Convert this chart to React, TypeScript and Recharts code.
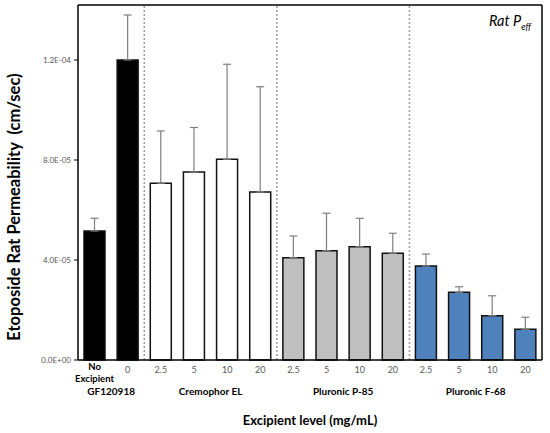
import React from 'react';
import {
  BarChart,
  Bar,
  XAxis,
  YAxis,
  Cell,
  ErrorBar,
  ReferenceLine,
} from 'recharts';

// one entry per bar, left to right
const ids = ['none', 'g0', 'c2.5', 'c5', 'c10', 'c20', 'p2.5', 'p5', 'p10', 'p20', 'f2.5', 'f5', 'f10', 'f20'];
const tickLabels = ['No Excipient', '0', '2.5', '5', '10', '20', '2.5', '5', '10', '20', '2.5', '5', '10', '20'];
const groupOf = [0, 0, 1, 1, 1, 1, 2, 2, 2, 2, 3, 3, 3, 3];
const permeability = [
  5.16e-5, 1.2e-4, 7.07e-5, 7.52e-5, 8.03e-5, 6.72e-5, 4.09e-5, 4.37e-5, 4.53e-5, 4.27e-5, 3.76e-5, 2.71e-5,
  1.77e-5, 1.23e-5,
];
const upperError = [
  0.51e-5, 1.8e-5, 2.09e-5, 1.78e-5, 3.8e-5, 4.21e-5, 0.87e-5, 1.5e-5, 1.14e-5, 0.8e-5, 0.48e-5, 0.22e-5, 0.8e-5,
  0.48e-5,
];

const groupNames = ['GF120918', 'Cremophor EL', 'Pluronic P-85', 'Pluronic F-68'];
const groupFills = ['#000000', '#ffffff', '#bfbfbf', '#4f81bd'];
const groupStarts = ['none', 'c2.5', 'p2.5', 'f2.5'];
const groupSizes = [2, 4, 4, 4];

const yTicks = [0, 4e-5, 8e-5, 1.2e-4];
const Y_MAX = 1.42e-4;

const WIDTH = 550;
const HEIGHT = 433;
const Y_AXIS_W = 78;
const MARGIN = { top: 5, right: 8, left: 0, bottom: 0 };
const BAND = (WIDTH - Y_AXIS_W - MARGIN.right) / ids.length;
const FONT = 'Lato, "Open Sans", sans-serif';

const data = ids.map((id, i) => ({
  id,
  label: tickLabels[i],
  group: groupOf[i],
  value: permeability[i],
  err: [0, upperError[i]],
}));

function sci(v: number): string {
  if (v === 0) return '0.0E+00';
  const exp = Math.floor(Math.log10(Math.abs(v)));
  const mant = v / Math.pow(10, exp);
  const sign = exp < 0 ? '-' : '+';
  return `${mant.toFixed(1)}E${sign}${String(Math.abs(exp)).padStart(2, '0')}`;
}

function CategoryTick(props: any) {
  const { x, y, payload, index } = props;
  const i = index ?? ids.indexOf(payload.value);
  const gi = groupStarts.indexOf(payload.value);
  return (
    <g>
      {i === 0 ? (
        <text x={x} y={y} textAnchor="middle" fontFamily={FONT} fontSize={9.5} fontWeight="bold" fill="#000">
          <tspan x={x} dy={10}>No</tspan>
          <tspan x={x} dy={11.5}>Excipient</tspan>
        </text>
      ) : (
        <text x={x} y={y + 13} textAnchor="middle" fontFamily={FONT} fontSize={9} fill="#595959">
          {tickLabels[i]}
        </text>
      )}
      {gi >= 0 && (
        <text
          x={x + ((groupSizes[gi] - 1) * BAND) / 2}
          y={y + 35}
          textAnchor="middle"
          fontFamily={FONT}
          fontSize={10}
          fontWeight="bold"
          fill="#000"
        >
          {groupNames[gi]}
        </text>
      )}
    </g>
  );
}

function YTitle() {
  return (
    <text
      x={14}
      y={207}
      transform="rotate(-90, 14, 207)"
      textAnchor="middle"
      dominantBaseline="central"
      fontFamily={FONT}
      fontSize={16.5}
      fontWeight="bold"
      fill="#000"
      style={{ whiteSpace: 'pre' }}
    >
      Etoposide Rat Permeability  (cm/sec)
    </text>
  );
}

export default function App() {
  return (
    <div style={{ position: 'relative', width: WIDTH, height: HEIGHT, background: '#fff' }}>
      <style>{'body{margin:0}'}</style>
      <BarChart width={WIDTH} height={HEIGHT} data={data} margin={MARGIN} barSize={21}>
        <XAxis
          dataKey="id"
          height={73}
          tick={<CategoryTick />}
          tickLine={false}
          tickSize={0}
          tickMargin={0}
          interval={0}
          axisLine={{ stroke: '#000', strokeWidth: 1.5 }}
          label={{
            value: 'Excipient level (mg/mL)',
            position: 'insideBottom',
            offset: 8,
            style: { fontFamily: FONT, fontSize: 13, fontWeight: 'bold', fill: '#000' },
          }}
        />
        <YAxis
          width={Y_AXIS_W}
          domain={[0, Y_MAX]}
          ticks={yTicks}
          tickFormatter={sci}
          tickSize={4}
          tickMargin={3}
          tick={{ fontFamily: FONT, fontSize: 8, fill: '#595959' }}
          tickLine={{ stroke: '#000' }}
          axisLine={{ stroke: '#000', strokeWidth: 1.5 }}
          label={<YTitle />}
        />
        {/* frame: top and right edges of the plot box */}
        <ReferenceLine y={Y_MAX} stroke="#000" strokeWidth={1.5} />
        <ReferenceLine x="f20" position="end" stroke="#000" strokeWidth={1.5} />
        {groupStarts.slice(1).map((id) => (
          <ReferenceLine key={id} x={id} position="start" stroke="#9a9a9a" strokeWidth={1.5} strokeDasharray="2 2" />
        ))}
        <Bar dataKey="value" stroke="#111" strokeWidth={1.5} isAnimationActive={false}>
          {data.map((d) => (
            <Cell key={d.id} fill={groupFills[d.group]} />
          ))}
          <ErrorBar dataKey="err" width={4} stroke="#7f7f7f" strokeWidth={1.2} direction="y" />
        </Bar>
      </BarChart>
      <div
        style={{
          position: 'absolute',
          right: 19,
          top: 12,
          fontFamily: FONT,
          fontStyle: 'italic',
          fontSize: 14.5,
          color: '#000',
          whiteSpace: 'nowrap',
        }}
      >
        Rat P<sub style={{ fontSize: 9 }}>eff</sub>
      </div>
    </div>
  );
}
